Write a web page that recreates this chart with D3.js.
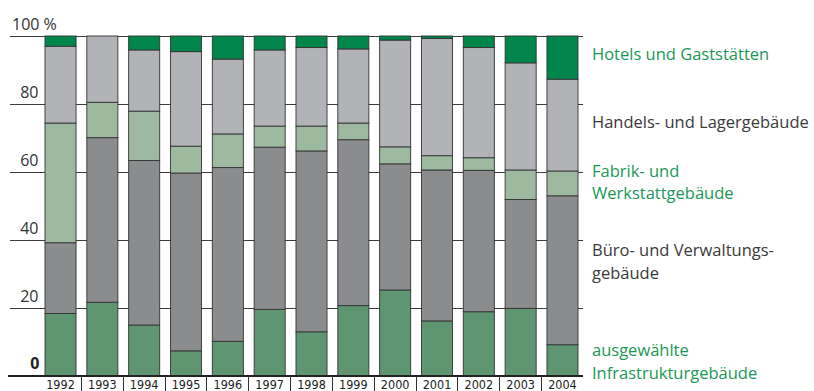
<!DOCTYPE html>
<html><head><meta charset="utf-8">
<script src="https://cdn.jsdelivr.net/npm/d3@7"></script>
<style>
html,body{margin:0;padding:0;background:#fff;}
svg{display:block;}
</style></head>
<body>
<svg id="chart" width="814" height="391"></svg>
<script>
const years = ["1992","1993","1994","1995","1996","1997","1998","1999","2000","2001","2002","2003","2004"];
const infrastruktur = [18.4, 21.7, 15.0, 7.4, 10.2, 19.6, 13.0, 20.7, 25.3, 16.2, 18.9, 19.9, 9.2];
const buero        = [20.8, 48.4, 48.4, 52.3, 51.1, 47.7, 53.2, 48.8, 37.1, 44.4, 41.6, 32.0, 43.8];
const fabrik       = [35.2, 10.4, 14.5, 7.9, 9.9, 6.2, 7.3, 4.9, 5.0, 4.2, 3.7, 8.7, 7.3];
const handels      = [22.6, 19.5, 18.0, 27.8, 22.0, 22.4, 23.1, 21.8, 31.4, 34.5, 32.4, 31.5, 27.0];
const hotels       = [3.0, 0.0, 4.1, 4.6, 6.8, 4.1, 3.4, 3.8, 1.2, 0.7, 3.4, 7.9, 12.7];
const yTicks = [0, 20, 40, 60, 80, 100];
const seriesKeys = ["infrastruktur","buero","fabrik","handels","hotels"];
const seriesValues = {infrastruktur, buero, fabrik, handels, hotels};
const legendLines = [
  {key:"hotels", lines:["Hotels und Gaststätten"]},
  {key:"handels", lines:["Handels- und Lagergebäude"]},
  {key:"fabrik", lines:["Fabrik- und","Werkstattgebäude"]},
  {key:"buero", lines:["Büro- und Verwaltungs-","gebäude"]},
  {key:"infrastruktur", lines:["ausgewählte","Infrastrukturgebäude"]}
];

const fills = {infrastruktur:"#5f9571", buero:"#8b8c8e", fabrik:"#9dbaa1", handels:"#b1b3b6", hotels:"#00864b"};
const legendColor = {infrastruktur:"#1a9857", buero:"#3a3a3a", fabrik:"#1a9857", handels:"#3a3a3a", hotels:"#1a9857"};
const legendBaseline = {hotels:59.5, handels:128, fabrik:176.7, buero:256, infrastruktur:356};

const table = years.map((y,i)=>{const o={year:y}; seriesKeys.forEach(k=>o[k]=seriesValues[k][i]); return o;});
const stacked = d3.stack().keys(seriesKeys)(table);

const svg = d3.select("#chart");
const font = "'Open Sans', 'Noto Sans', sans-serif";
const x = d3.scaleBand().domain(years).range([45, 578]).paddingInner(0.258).paddingOuter(0);
const y = d3.scaleLinear().domain([0,100]).range([376, 36]);

// gridlines
svg.append("g").selectAll("line").data(yTicks.filter(t=>t>0)).join("line")
  .attr("x1", 10).attr("x2", 583)
  .attr("y1", d=>y(d)).attr("y2", d=>y(d))
  .attr("stroke", "#3c3c3c").attr("stroke-width", 1).attr("shape-rendering","crispEdges");

// bars
const g = svg.append("g");
stacked.forEach(layer=>{
  g.append("g").selectAll("rect").data(layer.filter(d=>d[1]-d[0]>0)).join("rect")
    .attr("x", d=>x(d.data.year))
    .attr("width", x.bandwidth())
    .attr("y", d=>y(d[1]))
    .attr("height", d=>y(d[0])-y(d[1]))
    .attr("fill", fills[layer.key])
    .attr("stroke", "#333")
    .attr("stroke-width", 0.9);
});

// baseline
svg.append("line").attr("x1", 8).attr("x2", 583).attr("y1", y(0)).attr("y2", y(0))
  .attr("stroke", "#222").attr("stroke-width", 1.8);

// year separators
const step = x.step();
svg.append("g").selectAll("line").data(years.slice(1)).join("line")
  .attr("x1", d=>x(d) - (step - x.bandwidth())/2).attr("x2", d=>x(d) - (step - x.bandwidth())/2)
  .attr("y1", y(0)).attr("y2", 391)
  .attr("stroke", "#333").attr("stroke-width", 1).attr("shape-rendering","crispEdges");

// year labels
svg.append("g").selectAll("text").data(years).join("text")
  .attr("x", d=>x(d)+x.bandwidth()/2).attr("y", 388.5)
  .attr("text-anchor","middle")
  .attr("font-family", "'Liberation Sans Narrow', 'DejaVu Sans Condensed', sans-serif")
  .attr("font-size", 12.5).attr("fill", "#222")
  .text(d=>d);

// y labels
svg.append("g").selectAll("text").data(yTicks.filter(t=>t>0 && t<100)).join("text")
  .attr("x", 38.5).attr("y", d=>y(d)-6.5)
  .attr("text-anchor","end")
  .attr("font-family", font).attr("font-size", 16).attr("fill","#333")
  .text(d=>d);
svg.append("text").attr("x", 12).attr("y", y(100)-6.5)
  .attr("font-family", font).attr("font-size", 16).attr("fill","#333")
  .text("100 %");
svg.append("text").attr("x", 39.5).attr("y", 368.5).attr("text-anchor","end")
  .attr("font-family", font).attr("font-size", 16).attr("font-weight","bold").attr("fill","#222")
  .text("0");

// legend
const lg = svg.append("g");
legendLines.forEach(item=>{
  item.lines.forEach((ln,j)=>{
    lg.append("text").attr("x", 592).attr("y", legendBaseline[item.key] + j*22.7)
      .attr("font-family", font).attr("font-size", 16.5)
      .attr("fill", legendColor[item.key]).text(ln);
  });
});
</script>
</body></html>
